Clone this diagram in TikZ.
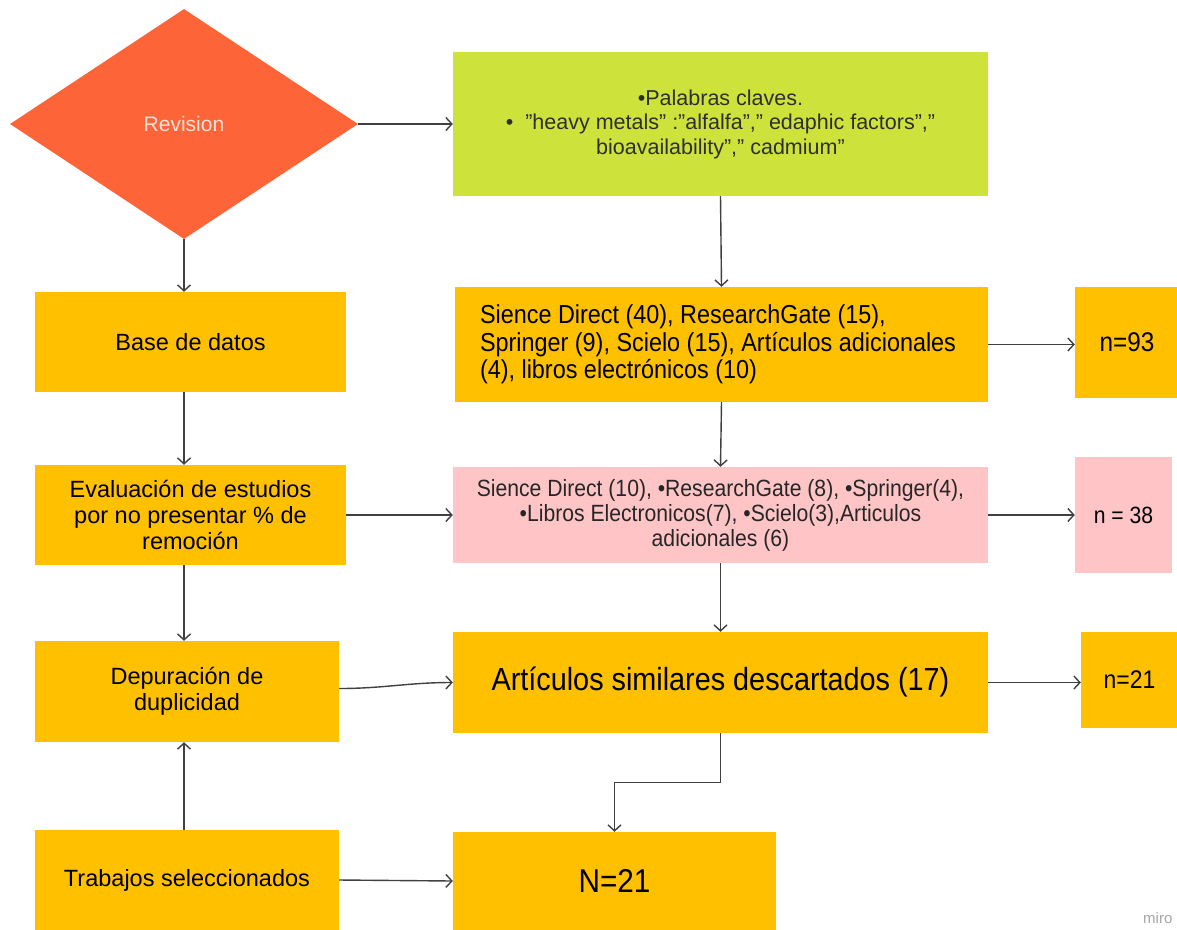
\documentclass[tikz,border=0pt]{standalone}
\usepackage{fontspec}
\setmainfont{Liberation Sans}
\newfontfamily\narrowf[FakeStretch=0.9]{Liberation Sans}
\usetikzlibrary{shapes.geometric,arrows.meta,calc}
\definecolor{revorange}{HTML}{FD6437}
\definecolor{limeg}{HTML}{CDE33C}
\definecolor{gold}{HTML}{FFC000}
\definecolor{rose}{HTML}{FFC5C6}
\definecolor{edgec}{HTML}{404040}
\definecolor{revtext}{HTML}{F4E2D8}
\definecolor{kwtext}{HTML}{2E2E2E}
\begin{document}
\begin{tikzpicture}[x=1pt,y=-1pt,
  box/.style={rectangle, fill=gold, draw=none, inner sep=0pt, align=center, text=black},
  leftfont/.style={font=\fontsize{23.5}{26}\selectfont},
  conn/.style={draw=edgec, line width=1.4pt, -{Straight Barb[length=6pt,width=13pt,line width=1.4pt]}}]
\useasboundingbox (0,0) rectangle (1177,929);
\fill[white] (0,0) rectangle (1177,929);

% left column
\node (rev) [diamond, fill=revorange, minimum width=348pt, minimum height=230pt, inner sep=0pt,
  text=revtext, font=\fontsize{21}{24}\selectfont] at (184,124) {Revision};
\node (base) [box, leftfont, minimum width=311pt, minimum height=100pt] at (190.5,342) {Base de datos};
\node (eval) [box, leftfont, minimum width=311pt, minimum height=100pt] at (190.5,515)
  {Evaluación de estudios\\por no presentar \% de\\remoción};
\node (dep) [box, leftfont, minimum width=304pt, minimum height=101pt] at (187,691.5)
  {Depuración de\\duplicidad};
\node (trab) [box, leftfont, minimum width=304pt, minimum height=100pt] at (187,880)
  {Trabajos seleccionados};

% middle column
\node (kw) [box, fill=limeg, text=kwtext, minimum width=535pt, minimum height=144pt,
  font=\fontsize{21.5}{24.5}\selectfont] at (720.5,124)
  {•Palabras claves.\\•\ \ ”heavy metals” :”alfalfa”,” edaphic factors”,”\\bioavailability”,” cadmium”};
\node (sd) [box, minimum width=533pt, minimum height=115pt] at (721.5,344.5) {};
\node (sdtext) [anchor=west, inner sep=0pt, align=left, text=black,
  font=\narrowf\fontsize{26}{27.5}\selectfont] at ($(sd.west)+(25,0)$)
  {Sience Direct (40), ResearchGate (15),\\Springer (9), Scielo (15), Artículos adicionales\\(4), libros electrónicos (10)};
\node (pink) [box, fill=rose, text=black!85, minimum width=535pt, minimum height=96pt,
  font=\narrowf\fontsize{23.5}{25}\selectfont] at (720.5,515)
  {Sience Direct (10), •ResearchGate (8), •Springer(4),\\•Libros Electronicos(7), •Scielo(3),Articulos\\adicionales (6)};
\node (art) [box, minimum width=535pt, minimum height=101pt,
  font=\narrowf\fontsize{32}{34}\selectfont] at (720.5,682.5) {Artículos similares descartados (17)};
\node (N21) [box, minimum width=323pt, minimum height=98pt,
  font=\narrowf\fontsize{33}{35}\selectfont] at (614.5,881) {N=21};

% right column
\node (n93) [box, minimum width=104pt, minimum height=111pt,
  font=\narrowf\fontsize{27}{29}\selectfont] at (1127,342.5) {n=93};
\node (n38) [box, fill=rose, minimum width=97pt, minimum height=116pt,
  font=\narrowf\fontsize{23.5}{25}\selectfont] at (1123.5,515) {n = 38};
\node (n21) [box, minimum width=97pt, minimum height=96pt,
  font=\narrowf\fontsize{25.5}{27}\selectfont] at (1129.5,680) {n=21};

\node (miro) [anchor=base west, text=black!35, inner sep=0pt, font=\fontsize{15}{16}\selectfont] at (1143,923) {miro};

% connectors
\draw[conn] (rev.east) -- (kw.west);
\draw[conn] (kw.south) -- (sd.north);
\draw[conn] (rev.south) -- (rev.south |- base.north);
\draw[conn] (base.south -| rev.south) -- (eval.north -| rev.south);
\draw[conn] (eval.south -| rev.south) -- (dep.north -| rev.south);
\draw[conn] (trab.north -| rev.south) -- (dep.south -| rev.south);
\draw[conn] (sd.east) -- (sd.east -| n93.west);
\draw[conn] (sd.south) -- (pink.north);
\draw[conn] (eval.east) -- (pink.west);
\draw[conn] (pink.east) -- (n38.west);
\draw[conn] (pink.south) -- (art.north);
\draw[conn] ($(dep.east)+(0,-3)$) to[out=0,in=180] (art.west);
\draw[conn] (art.east) -- (art.east -| n21.west);
\draw[conn] (art.south) |- ($(art.south)!0.5!(N21.north)$) -| (N21.north);
\draw[conn] (trab.east) -- (N21.west);
\end{tikzpicture}
\end{document}
